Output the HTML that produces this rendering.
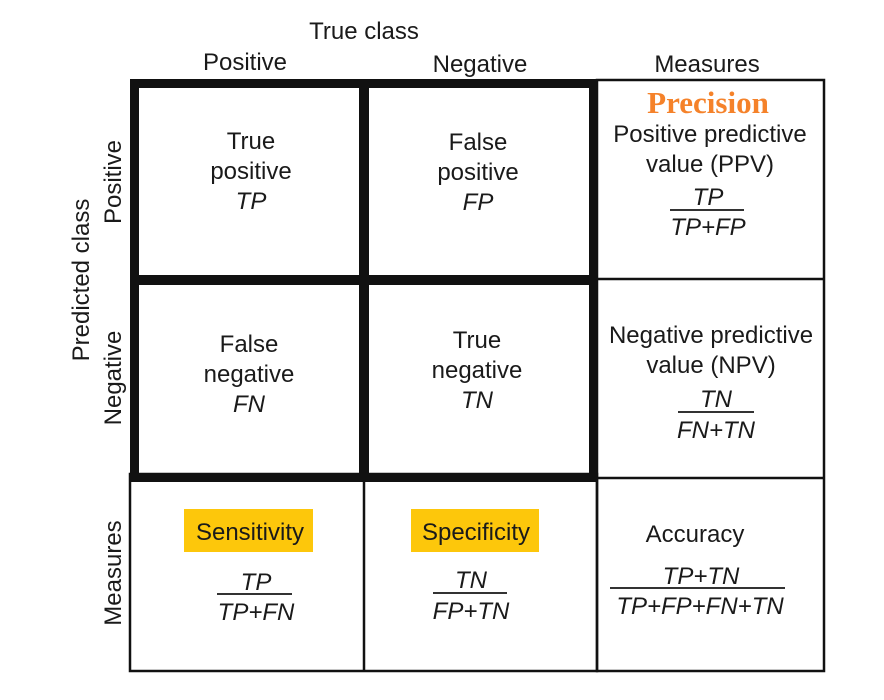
<!DOCTYPE html>
<html><head><meta charset="utf-8"><style>
html,body{margin:0;padding:0;background:#fff;}
svg{display:block;}
text{font-family:"Liberation Sans",sans-serif;fill:#1a1a1a;font-size:24px;}
.i{font-style:italic;}
</style></head><body>
<svg width="884" height="700" viewBox="0 0 884 700">
<g stroke="#111" fill="none">
<rect x="597" y="80" width="227" height="591" stroke-width="2.5"/>
<rect x="130" y="474" width="467" height="197" stroke-width="2.5"/>
<line x1="364" y1="474" x2="364" y2="671" stroke-width="2.5"/>
<line x1="597" y1="279" x2="824" y2="279" stroke-width="2.5"/>
<line x1="597" y1="478" x2="824" y2="478" stroke-width="2.5"/>
<rect x="134.5" y="83.5" width="459" height="394" stroke-width="9"/>
<line x1="364" y1="83" x2="364" y2="478" stroke-width="10"/>
<line x1="134" y1="280" x2="594" y2="280" stroke-width="10"/>
</g>
<text x="364" y="39" text-anchor="middle">True class</text>
<text x="245" y="70" text-anchor="middle">Positive</text>
<text x="480" y="72" text-anchor="middle">Negative</text>
<text x="707" y="72" text-anchor="middle">Measures</text>
<text transform="translate(89,280) rotate(-90)" text-anchor="middle">Predicted class</text>
<text transform="translate(121,182) rotate(-90)" text-anchor="middle">Positive</text>
<text transform="translate(121,378) rotate(-90)" text-anchor="middle">Negative</text>
<text transform="translate(121,573) rotate(-90)" text-anchor="middle">Measures</text>

<g text-anchor="middle">
<text x="251" y="149">True</text><text x="251" y="179">positive</text><text x="251" y="209" class="i">TP</text></g>
<g text-anchor="middle">
<text x="478" y="150">False</text><text x="478" y="180">positive</text><text x="478" y="210" class="i">FP</text></g>
<g text-anchor="middle">
<text x="249" y="352">False</text><text x="249" y="382">negative</text><text x="249" y="412" class="i">FN</text></g>
<g text-anchor="middle">
<text x="477" y="348">True</text><text x="477" y="378">negative</text><text x="477" y="408" class="i">TN</text></g>

<g text-anchor="middle">
<text x="708" y="113" style="font-family:'Liberation Serif',serif;font-weight:bold;font-size:31px;fill:#f5822a">Precision</text>
<text x="710" y="142">Positive predictive</text><text x="710" y="172">value (PPV)</text>
<text x="708" y="205" class="i">TP</text>
<line x1="670" y1="210" x2="744" y2="210" stroke="#333" stroke-width="2"/>
<text x="708" y="235" class="i">TP+FP</text></g>
<g text-anchor="middle">
<text x="711" y="343">Negative predictive</text><text x="711" y="373">value (NPV)</text>
<text x="716" y="407" class="i">TN</text>
<line x1="678" y1="412" x2="754" y2="412" stroke="#333" stroke-width="2"/>
<text x="716" y="438" class="i">FN+TN</text></g>

<rect x="184" y="509" width="129" height="43" fill="#fdc70b"/>
<g text-anchor="middle">
<text x="250" y="540">Sensitivity</text>
<text x="256" y="590" class="i">TP</text>
<line x1="217" y1="594" x2="292" y2="594" stroke="#333" stroke-width="2"/>
<text x="256" y="620" class="i">TP+FN</text></g>
<rect x="411" y="509" width="128" height="43" fill="#fdc70b"/>
<g text-anchor="middle">
<text x="476" y="540">Specificity</text>
<text x="471" y="588" class="i">TN</text>
<line x1="433" y1="593" x2="507" y2="593" stroke="#333" stroke-width="2"/>
<text x="471" y="619" class="i">FP+TN</text></g>
<g text-anchor="middle">
<text x="695" y="542">Accuracy</text>
<text x="701" y="584" class="i">TP+TN</text>
<line x1="610" y1="588" x2="785" y2="588" stroke="#333" stroke-width="2"/>
<text x="700" y="614" class="i">TP+FP+FN+TN</text></g>
</svg>
</body></html>
